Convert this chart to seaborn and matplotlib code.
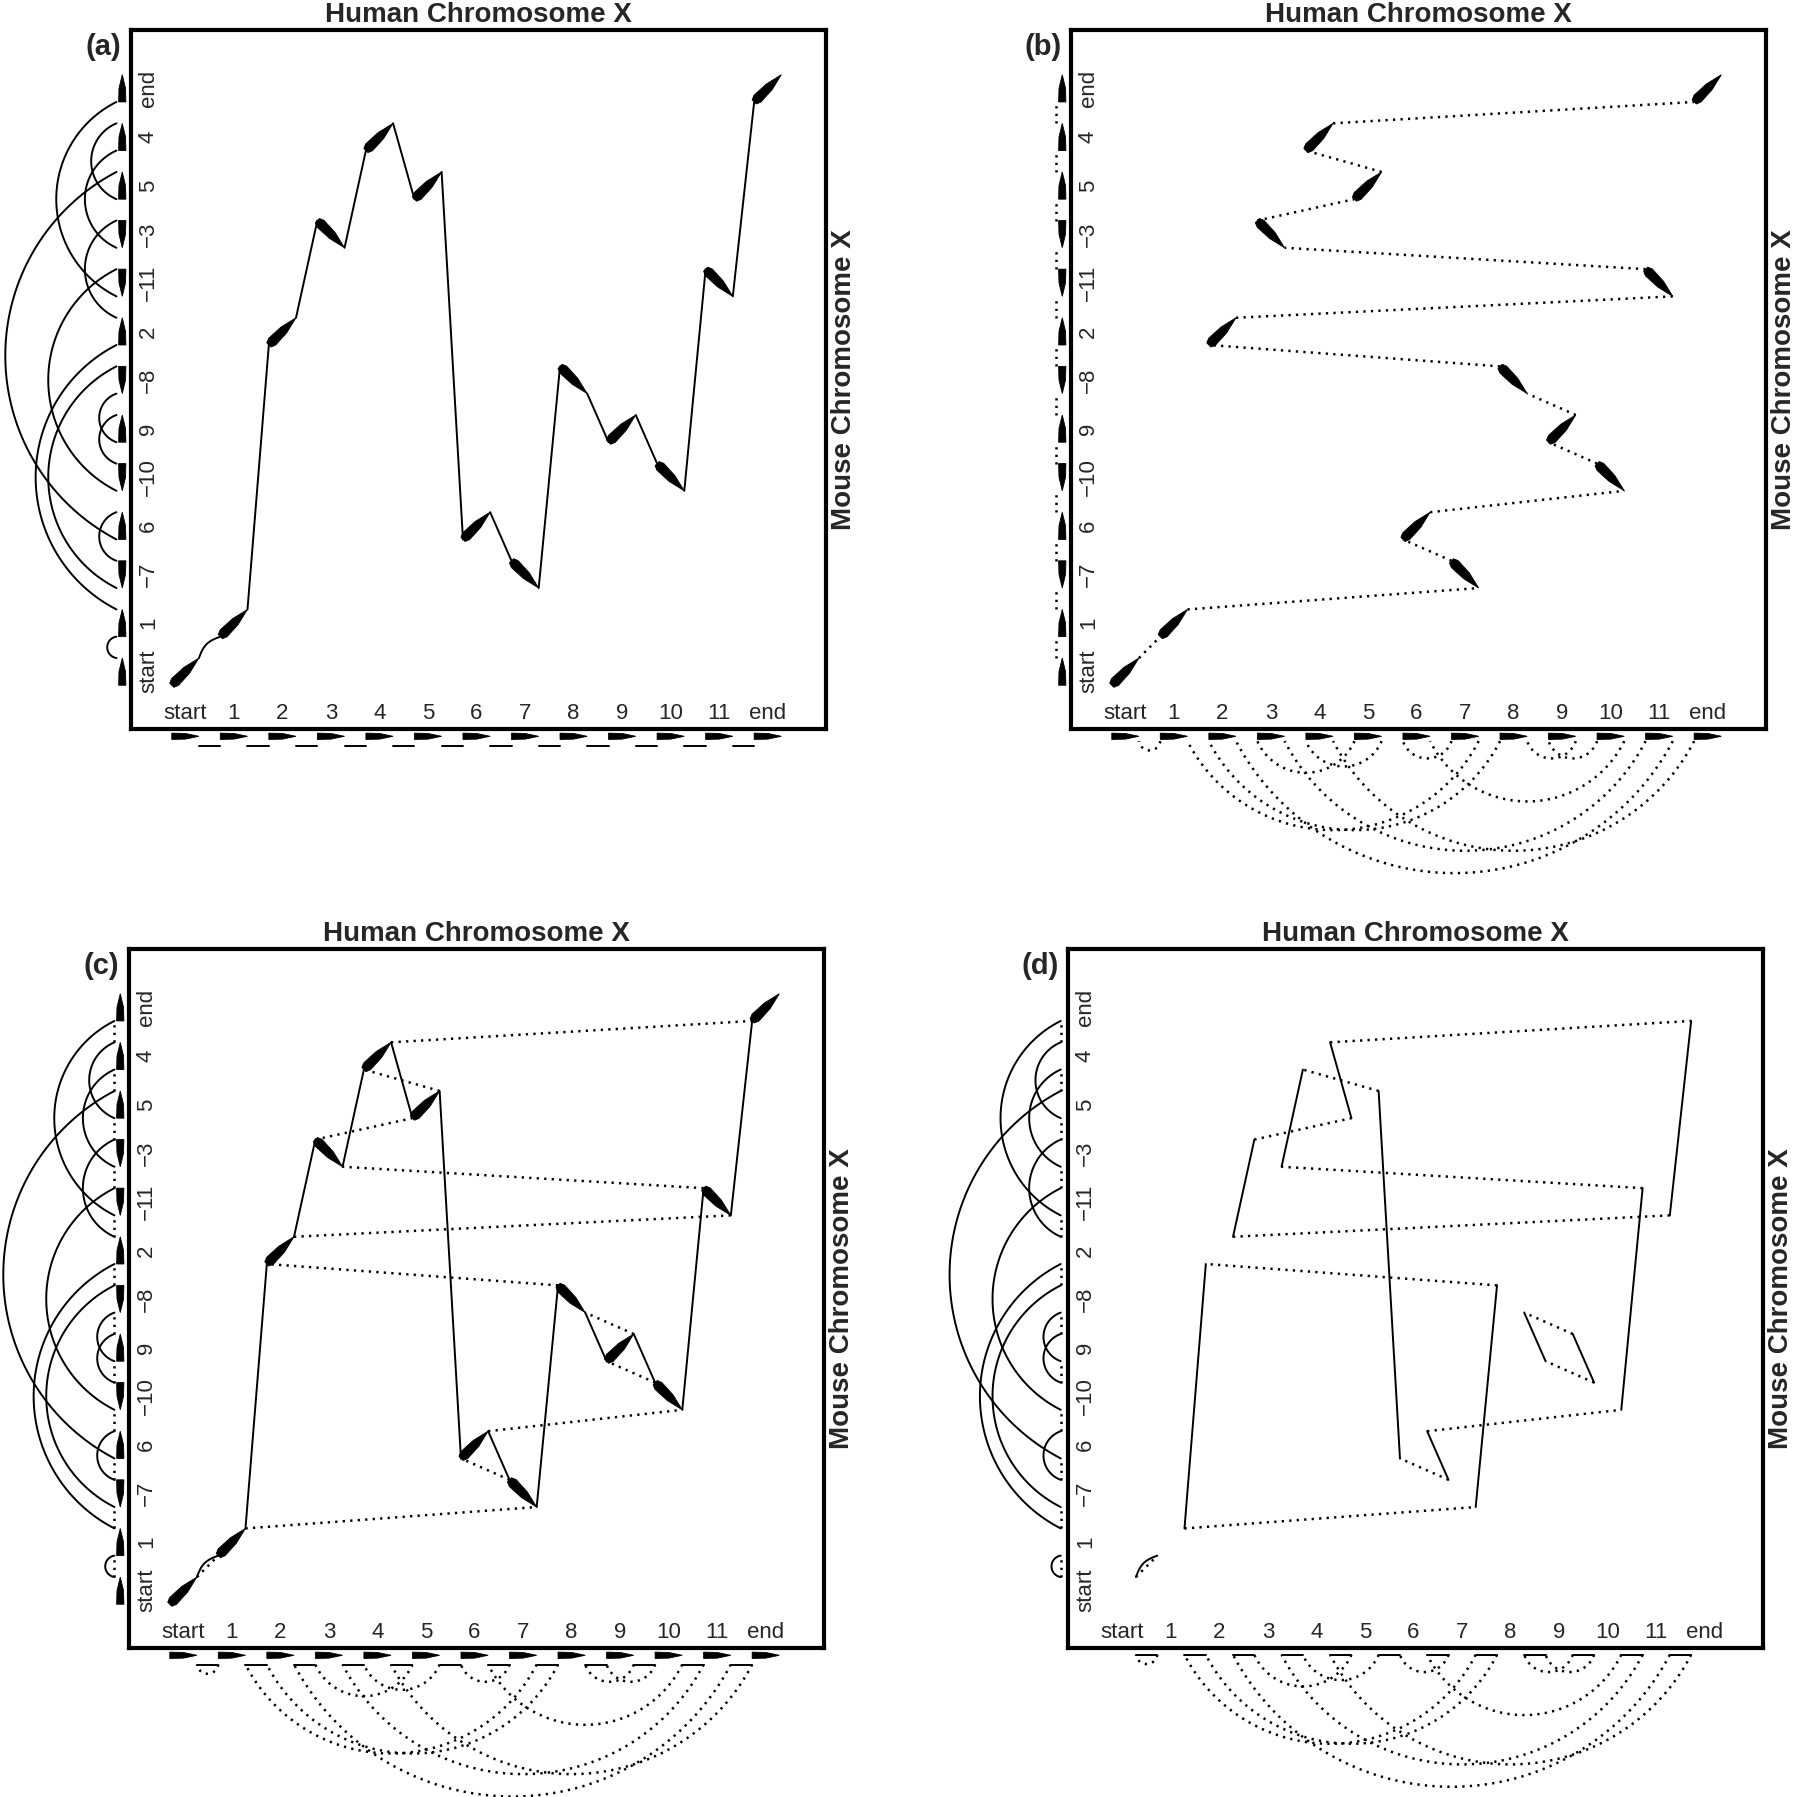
import numpy as np
import pandas as pd
import matplotlib
matplotlib.use("Agg")
import matplotlib.pyplot as plt
import seaborn as sns
from matplotlib.patches import Polygon

# block order along the human chromosome (x axis)
human_labels = ["start", "1", "2", "3", "4", "5", "6", "7", "8", "9", "10", "11", "end"]
# block order along the mouse chromosome (y axis, bottom -> top), minus = reversed
mouse_labels = ["start", "1", "\u22127", "6", "\u221210", "9", "\u22128", "2",
                "\u221211", "\u22123", "5", "4", "end"]
panel_tags = ["(a)", "(b)", "(c)", "(d)"]
top_title = "Human Chromosome X"
side_title = "Mouse Chromosome X"

sns.set_theme(style="white")
plt.rcParams["font.family"] = ["Liberation Sans", "DejaVu Sans"]

n = len(human_labels)
mpos = np.zeros(n, int)
sgn = np.ones(n, int)
for k, lab in enumerate(mouse_labels):
    h = human_labels.index(lab.replace("\u2212", ""))
    mpos[h] = k
    sgn[h] = -1 if lab.startswith("\u2212") else 1
order_m = np.argsort(mpos)

A = 0.28
XL = (-1.12, 13.2)
YL = (-1.18, 13.2)


def tail(h):
    return (h - A, mpos[h] - A * sgn[h])


def head(h):
    return (h + A, mpos[h] + A * sgn[h])


def top(h):
    return head(h) if sgn[h] > 0 else tail(h)


def bottom(h):
    return tail(h) if sgn[h] > 0 else head(h)


human_links = [(head(h), tail(h + 1)) for h in range(n - 1)]
mouse_links = [(top(order_m[k]), bottom(order_m[k + 1])) for k in range(n - 1)]


def arc(a, b, base, npts=80):
    # circular arc between a and b bulging away from base
    h = abs(b - a) / 2
    c = (a + b) / 2
    s = 0.06 + 0.59 * h
    R = (h * h + s * s) / (2 * s)
    phi = np.arctan2(h, s - R)
    t = np.linspace(phi, 2 * np.pi - phi, npts)
    return (base - s + R) + R * np.cos(t), c + R * np.sin(t)


def bent(p, q, b=0.09, npts=30):
    p, q = np.array(p), np.array(q)
    d = q - p
    nrm = np.array([-d[1], d[0]]) / np.hypot(*d)
    t = np.linspace(0, 1, npts)
    pts = p + np.outer(t, d) + np.outer(np.sin(np.pi * t) * b, nrm)
    return pts[:, 0], pts[:, 1]


def shape(p, q, w, prof):
    p, q = np.array(p, float), np.array(q, float)
    d = q - p
    L = np.hypot(*d)
    e = d / L
    nrm = np.array([-e[1], e[0]])
    pts = [p + e * u * L + nrm * v * w for u, v in prof]
    return Polygon(pts, closed=True, fc="black", ec="black", lw=0.6, clip_on=False, zorder=5)


block_prof = [(0, -0.3), (0.12, -0.5), (0.55, -0.42), (1, 0), (0.55, 0.42), (0.12, 0.5), (0, 0.3)]
glyph_prof = [(0, -0.5), (0.5, -0.45), (1, 0), (0.5, 0.45), (0, 0.5)]


def draw(ax, paths, dotted):
    rows = []
    for i, (xs, ys) in enumerate(paths):
        for x, y in zip(xs, ys):
            rows.append((i, x, y))
    df = pd.DataFrame(rows, columns=["seg", "x", "y"])
    sns.lineplot(data=df, x="x", y="y", units="seg", estimator=None, sort=False,
                 color="black", linewidth=1.8 if dotted else 1.4,
                 linestyle=(0, (0.9, 2.1)) if dotted else "-",
                 clip_on=False, legend=False, ax=ax)


def panel(ax, tag, solid, dotted, blocks):
    x0, y0 = XL[0], YL[0]
    if blocks:
        gx, sx = x0 - 0.18, x0 - 0.3
        gy, dy = y0 - 0.15, y0 - 0.34
        by = dy if solid else y0 - 0.25
    else:
        sx = x0 - 0.15
        dy = y0 - 0.14
        by = dy

    # connections inside the dot plot
    if solid:
        paths = []
        for i, (p, q) in enumerate(human_links):
            if i == 0:
                paths.append(bent(p, q))
            else:
                paths.append(([p[0], q[0]], [p[1], q[1]]))
        draw(ax, paths, False)
        # human adjacencies on the mouse axis (left arcs)
        paths = []
        for p, q in human_links:
            x, y = arc(p[1], q[1], sx)
            paths.append((x, y))
        draw(ax, paths, False)
        # human adjacencies on the human axis (short dashes)
        draw(ax, [([h + A, h + 1 - A], [dy, dy]) for h in range(n - 1)], False)
    if dotted:
        draw(ax, [([p[0], q[0]], [p[1], q[1]]) for p, q in mouse_links], True)
        # mouse adjacencies on the mouse axis (short dotted pieces)
        draw(ax, [([sx, sx], [k + A, k + 1 - A]) for k in range(n - 1)], True)
        # mouse adjacencies on the human axis (bottom arcs)
        paths = []
        for p, q in mouse_links:
            y, x = arc(p[0], q[0], by)
            paths.append((x, y))
        draw(ax, paths, True)

    if blocks:
        for h in range(n):
            ax.add_patch(shape(tail(h), head(h), 0.2, block_prof))
            ax.add_patch(shape((h - A, gy), (h + A, gy), 0.13, glyph_prof))
            m = mpos[h]
            ax.add_patch(shape((gx, m - A * sgn[h]), (gx, m + A * sgn[h]), 0.15, glyph_prof))

    for i, lab in enumerate(human_labels):
        ax.text(i, -0.86, lab, ha="center", va="center", fontsize=16)
    for k, lab in enumerate(mouse_labels):
        ax.text(-0.76, k, lab, ha="center", va="center", rotation=90, fontsize=16)

    ax.set_xlim(*XL)
    ax.set_ylim(*YL)
    ax.set_xticks([])
    ax.set_yticks([])
    ax.set(xlabel="", ylabel="")
    for sp in ax.spines.values():
        sp.set_color("black")
        sp.set_linewidth(3)
    ax.text(0.5, 1.011, top_title, transform=ax.transAxes, ha="center", va="baseline",
            fontsize=20, fontweight="bold")
    ax.text(1.026, 0.5, side_title, transform=ax.transAxes, ha="center", va="center",
            rotation=90, fontsize=20, fontweight="bold")
    ax.text(-0.04, 0.976, tag, transform=ax.transAxes, ha="center", va="center",
            fontsize=21, fontweight="bold")


fig = plt.figure(figsize=(18, 17.97), dpi=100)
W, H = 695 / 1800, 699 / 1797
boxes = [(131, 30), (1071, 30), (129, 949), (1068, 949)]
setups = [(True, False, True), (False, True, True), (True, True, True), (True, True, False)]
for (lx, ty), tag, (so, do, bl) in zip(boxes, panel_tags, setups):
    ax = fig.add_axes([lx / 1800, 1 - (ty + 699) / 1797, W, H])
    panel(ax, tag, so, do, bl)

fig.savefig("out.png", dpi=100)
